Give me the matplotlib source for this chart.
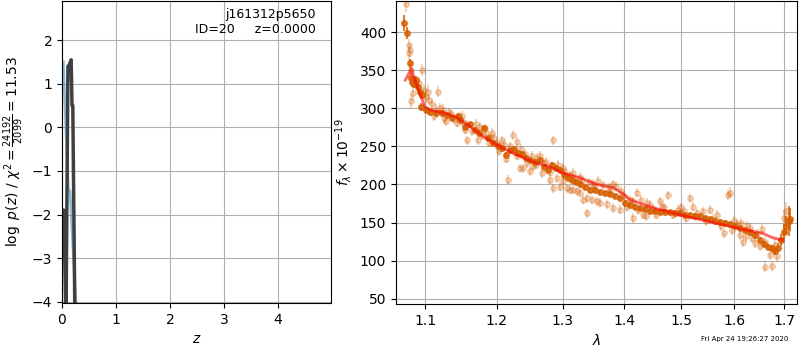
import matplotlib
matplotlib.use("Agg")
import matplotlib.pyplot as plt
from matplotlib.ticker import NullLocator

# left panel: log p(z)
zgrid_coarse = [0.024, 0.117, 0.149, 0.260]
logpz_coarse = [1.50, -1.42, -1.46, -4.10]

zgrid_fine = [0.000, 0.012, 0.024, 0.035, 0.074, 0.110, 0.130, 0.155, 0.170, 0.185, 0.200, 0.240]
logpz_fine = [-2.3, -1.9, -2.2, -1.9, -4.5, 1.40, 1.42, 1.50, 1.55, 0.50, 0.50, -4.5]

# right panel: spectrum (G141)
light_wave = [1.0747, 1.0786, 1.0786, 1.0800, 1.0815, 1.0837, 1.0815, 1.0925, 1.0960, 1.0990,
              1.1036, 1.1013, 1.1057, 1.1170, 1.1147, 1.1237, 1.1260, 1.1330, 1.1400, 1.1466,
              1.1520, 1.1580, 1.1580, 1.1650, 1.1736, 1.1757, 1.1827, 1.1850, 1.1900, 1.1963,
              1.2000, 1.2055, 1.2100, 1.2130, 1.2160, 1.2241, 1.2290, 1.2300, 1.2340, 1.2390,
              1.2420, 1.2490, 1.2543, 1.2600, 1.2670, 1.2700, 1.2797, 1.2844, 1.2850, 1.2900,
              1.2953, 1.3000, 1.3000, 1.3060, 1.3110, 1.3160, 1.3160, 1.3220, 1.3270, 1.3270,
              1.3325, 1.3380, 1.3380, 1.3460, 1.3500, 1.3544, 1.3596, 1.3710, 1.3760, 1.3810,
              1.3870, 1.3929, 1.4000, 1.4100, 1.4160, 1.4214, 1.4298, 1.4328, 1.4380, 1.4449,
              1.4500, 1.4620, 1.4700, 1.4770, 1.4950, 1.5050, 1.5160, 1.5220, 1.5400, 1.5530,
              1.5660, 1.5812, 1.5880, 1.5910, 1.6000, 1.6106, 1.6140, 1.6170, 1.6220, 1.6310,
              1.6400, 1.6500, 1.6550, 1.6610, 1.6700, 1.6740, 1.6855, 1.6990, 1.7030,
              1.1090, 1.1120, 1.1200, 1.1290, 1.1350, 1.1430, 1.1500, 1.1550, 1.1700, 1.1780,
              1.1880, 1.1930, 1.2030, 1.2080, 1.2200, 1.2270, 1.2360, 1.2450, 1.2520, 1.2580,
              1.2640, 1.2740, 1.2800, 1.2920, 1.3040, 1.3120, 1.3200, 1.3300, 1.3420, 1.3480,
              1.3560, 1.3650, 1.3740, 1.3820, 1.3950, 1.4050, 1.4150, 1.4240, 1.4400, 1.4560,
              1.4660, 1.4850, 1.5000, 1.5100, 1.5300, 1.5460, 1.5600, 1.5750, 1.5950, 1.6050,
              1.6250, 1.6350, 1.6450, 1.6600, 1.6800]
light_flux = [437, 383, 372, 376, 350, 320, 309, 333, 350, 324,
              322, 315, 311, 322, 298, 298, 287, 295, 286, 289,
              282, 278, 258, 270, 258, 276, 274, 268, 262, 261,
              255, 248, 252, 234, 206, 265, 256, 238, 221, 221,
              240, 217, 224, 235, 215, 228, 206, 258, 195, 208,
              197, 204, 222, 195, 193, 215, 193, 191, 210, 189,
              180, 182, 162, 180, 198, 178, 176, 174, 192, 169,
              197, 167, 185, 180, 156, 189, 180, 160, 158, 173,
              168, 178, 170, 186, 167, 165, 182, 171, 165, 167,
              160, 136, 186, 189, 152, 134, 149, 125, 132, 143,
              123, 119, 141, 92, 108, 93, 106, 156, 165,
              305, 290, 300, 283, 292, 281, 290, 272, 280, 265,
              255, 268, 244, 258, 250, 243, 247, 228, 238, 226,
              238, 230, 216, 226, 216, 212, 207, 205, 203, 201,
              205, 199, 196, 200, 192, 170, 178, 166, 176, 160,
              171, 160, 170, 156, 162, 152, 155, 145, 140, 148,
              145, 130, 135, 125, 120]
light_err = [10, 8, 8, 8, 8, 10, 10, 8, 8, 8,
             8, 8, 7, 7, 7, 7, 7, 6, 6, 6,
             6, 6, 6, 6, 6, 6, 6, 6, 6, 6,
             6, 6, 6, 6, 6, 6, 6, 6, 6, 6,
             6, 6, 6, 6, 6, 6, 6, 6, 6, 6,
             6, 6, 6, 6, 6, 6, 6, 6, 6, 6,
             6, 6, 6, 6, 6, 6, 6, 6, 6, 6,
             6, 6, 6, 6, 6, 6, 6, 6, 6, 6,
             6, 6, 6, 6, 6, 6, 6, 6, 6, 6,
             6, 6, 7, 7, 6, 7, 7, 7, 7, 7,
             7, 7, 7, 7, 7, 7, 8, 10, 12,
             7, 7, 7, 6, 6, 6, 6, 6, 6, 6,
             6, 6, 6, 6, 6, 6, 6, 6, 6, 6,
             6, 6, 6, 6, 6, 6, 6, 6, 6, 6,
             6, 6, 6, 6, 6, 6, 6, 6, 6, 6,
             6, 6, 6, 6, 6, 6, 6, 6, 6, 6,
             7, 7, 7, 7, 8]

dark_wave = [1.0724, 1.0762, 1.0802, 1.0815, 1.0828, 1.0855, 1.0881, 1.0907, 1.0934, 1.0947,
             1.0960, 1.1013, 1.1067, 1.1148, 1.1230, 1.1297, 1.1365, 1.1448, 1.1476, 1.1545,
             1.1616, 1.1686, 1.1743, 1.1814, 1.1870, 1.1943, 1.2016, 1.2074, 1.2133, 1.2192,
             1.2251, 1.2311, 1.2371, 1.2431, 1.2491, 1.2567, 1.2643, 1.2705, 1.2766, 1.2828,
             1.2890, 1.2953, 1.3016, 1.3079, 1.3143, 1.3206, 1.3270, 1.3351, 1.3432, 1.3514,
             1.3596, 1.3678, 1.3761, 1.3845, 1.3929, 1.4014, 1.4099, 1.4184, 1.4270, 1.4357,
             1.4444, 1.4532, 1.4620, 1.4709, 1.4798, 1.4888, 1.4978, 1.5069, 1.5160, 1.5252,
             1.5345, 1.5438, 1.5532, 1.5626, 1.5721, 1.5817, 1.5913, 1.6009, 1.6106, 1.6204,
             1.6302, 1.6401, 1.6501, 1.6581, 1.6662, 1.6743, 1.6804, 1.6866, 1.6926, 1.6988,
             1.7029, 1.7090, 1.7110]
dark_flux = [412, 399, 359, 340, 334, 332, 337, 328, 321, 302,
             317, 298, 295, 294, 294, 291, 287, 290, 285, 276,
             279, 272, 268, 274, 261, 255, 251, 248, 239, 245,
             247, 241, 240, 235, 232, 230, 232, 223, 219, 226,
             222, 219, 213, 209, 206, 203, 200, 196, 193, 193,
             190, 189, 188, 185, 182, 176, 173, 171, 169, 168,
             165, 165, 164, 164, 164, 163, 163, 160, 160, 159,
             158, 156, 154, 152, 151, 150, 148, 146, 143, 140,
             137, 133, 127, 122, 118, 116, 112, 117, 127, 138,
             146, 152, 154]
dark_err = [10, 8, 6, 6, 6, 5, 5, 5, 5, 5,
            4, 4, 4, 4, 4, 3, 3, 3, 3, 3,
            3, 3, 3, 3, 3, 3, 3, 3, 3, 3,
            3, 3, 3, 3, 3, 3, 3, 3, 3, 3,
            3, 3, 3, 3, 3, 3, 3, 3, 3, 3,
            3, 3, 3, 3, 3, 3, 3, 3, 3, 3,
            3, 3, 3, 3, 3, 3, 3, 3, 3, 3,
            3, 3, 3, 3, 3, 3, 3, 3, 3, 3,
            3, 4, 4, 4, 4, 5, 5, 6, 8, 10,
            12, 20, 15]

model_wave = [1.074, 1.082, 1.091, 1.100, 1.107, 1.129, 1.143, 1.162, 1.180, 1.200,
              1.219, 1.239, 1.259, 1.280, 1.300, 1.327, 1.354, 1.381, 1.398, 1.410,
              1.439, 1.467, 1.498, 1.528, 1.559, 1.591, 1.624, 1.656, 1.676, 1.697]
model_flux = [337, 352, 324, 302, 298, 293, 288, 276, 263, 252,
              243, 235, 228, 223, 215, 209, 200, 196, 188, 180,
              172, 166, 160, 155, 150, 145, 140, 136, 130, 127]

g141_color = (0.8352941176470589, 0.3686274509803922, 0.0)

fig = plt.figure(figsize=(8, 3.5), dpi=100)

# p(z)
ax = fig.add_axes([0.0775, 0.1343, 0.336, 0.863])
ax.plot(zgrid_coarse, logpz_coarse, color='tab:blue', alpha=0.5, lw=2)
ax.plot(zgrid_fine, logpz_fine, color='0.25', lw=2.5)
ax.set_xlim(0, 4.98)
ax.set_ylim(-4.03, 2.9)
ax.set_xticks([0, 1, 2, 3, 4])
ax.set_yticks([-4, -3, -2, -1, 0, 1, 2])
ax.set_xlabel('$z$')
ax.set_ylabel(r'$\log\ p(z)$' + ' / ' + r'$\chi^2=\frac{24192}{2099}=11.53$')
ax.text(0.945, 0.975, 'j161312p5650\nID=20     z=0.0000', transform=ax.transAxes,
        ha='right', va='top', fontsize=9)
ax.grid()

# spectrum
ax = fig.add_axes([0.495, 0.1314, 0.501, 0.866])
ax.errorbar(light_wave, light_flux, light_err, color=g141_color, alpha=0.25,
            marker='o', ms=4, linestyle='None', elinewidth=1.5, zorder=2)
ax.errorbar(dark_wave, dark_flux, dark_err, color=g141_color, alpha=0.8,
            marker='o', ms=4, linestyle='None', elinewidth=1.5, zorder=3)
ax.plot(model_wave, model_flux, color='r', alpha=0.6, lw=2, zorder=4)
ax.set_xscale('log')
ax.set_xlim(1.062, 1.726)
ax.set_ylim(43, 441)
ticks = [1.1, 1.2, 1.3, 1.4, 1.5, 1.6, 1.7]
ax.set_xticks(ticks)
ax.set_xticklabels(['%.1f' % t for t in ticks])
ax.xaxis.set_minor_locator(NullLocator())
ax.set_yticks([50, 100, 150, 200, 250, 300, 350, 400])
ax.set_xlabel(r'$\lambda$')
ax.set_ylabel(r'$f_\lambda\times10^{-19}$')
ax.grid()

fig.text(0.985, 0.022, 'Fri Apr 24 19:26:27 2020', ha='right', va='bottom', fontsize=5)

plt.savefig('out.png', dpi=100)
